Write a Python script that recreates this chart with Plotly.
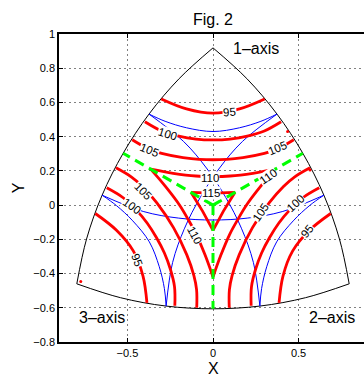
import plotly.graph_objects as go

# ---------------- data ----------------
# boundary edges of the projected octant
edge_13_x = [0.000, -0.198, -0.374, -0.525, -0.648, -0.739, -0.796]
edge_13_y = [0.919, 0.739, 0.532, 0.303, 0.058, -0.198, -0.460]
edge_32_x = [-0.796, -0.541, -0.274, 0.000, 0.274, 0.541, 0.796]
edge_32_y = [-0.460, -0.541, -0.590, -0.606, -0.590, -0.541, -0.460]
edge_21_x = [0.796, 0.739, 0.648, 0.525, 0.374, 0.198, 0.000]
edge_21_y = [-0.460, -0.198, 0.058, 0.303, 0.532, 0.739, 0.919]

# red contour lines (levels 95, 100, 105 around each axis; closed 110 and 115)
c95_ax1_x = [-0.302, -0.155, 0.000, 0.155, 0.302]
c95_ax1_y = [0.620, 0.562, 0.537, 0.562, 0.620]
c95_ax3_x = [-0.386, -0.409, -0.465, -0.564, -0.688]
c95_ax3_y = [-0.572, -0.415, -0.269, -0.147, -0.049]
c95_ax2_x = [0.386, 0.409, 0.465, 0.564, 0.688]
c95_ax2_y = [-0.572, -0.415, -0.269, -0.147, -0.049]

c100_ax1_x = [-0.398, -0.300, -0.200, -0.100, 0.000, 0.100, 0.200, 0.300, 0.398]
c100_ax1_y = [0.487, 0.433, 0.403, 0.386, 0.381, 0.386, 0.403, 0.433, 0.487]
c100_ax3_x = [-0.223, -0.225, -0.249, -0.284, -0.330, -0.384, -0.449, -0.525, -0.621]
c100_ax3_y = [-0.588, -0.476, -0.375, -0.280, -0.191, -0.106, -0.028, 0.043, 0.101]
c100_ax2_x = [0.223, 0.225, 0.249, 0.284, 0.330, 0.384, 0.449, 0.525, 0.621]
c100_ax2_y = [-0.588, -0.476, -0.375, -0.280, -0.191, -0.106, -0.028, 0.043, 0.101]

c105_ax1_x = [-0.472, -0.380, -0.300, -0.175, 0.000, 0.175, 0.300, 0.380, 0.472]
c105_ax1_y = [0.382, 0.330, 0.302, 0.278, 0.265, 0.278, 0.302, 0.330, 0.382]
c105_ax3_x = [-0.095, -0.096, -0.112, -0.153, -0.230, -0.328, -0.412, -0.476, -0.567]
c105_ax3_y = [-0.600, -0.494, -0.411, -0.291, -0.133, 0.013, 0.109, 0.164, 0.218]
c105_ax2_x = [0.095, 0.096, 0.112, 0.153, 0.230, 0.328, 0.412, 0.476, 0.567]
c105_ax2_y = [-0.600, -0.494, -0.411, -0.291, -0.133, 0.013, 0.109, 0.164, 0.218]

c110_top_x = [-0.364, -0.233, -0.100, 0.000, 0.100, 0.233, 0.364]
c110_top_y = [0.210, 0.186, 0.170, 0.167, 0.170, 0.186, 0.210]
c110_right_x = [0.364, 0.278, 0.197, 0.145, 0.097, 0.045, 0.000]
c110_right_y = [0.210, 0.109, 0.002, -0.084, -0.172, -0.295, -0.420]
c110_left_x = [0.000, -0.045, -0.097, -0.145, -0.197, -0.278, -0.364]
c110_left_y = [-0.420, -0.295, -0.172, -0.084, 0.002, 0.109, 0.210]

c115_x = [-0.128, 0.000, 0.128, 0.061, 0.000, -0.061, -0.128]
c115_y = [0.074, 0.070, 0.074, -0.035, -0.148, -0.035, 0.074]

red_specks_x = [0.436, -0.773, 0.567]
red_specks_y = [0.430, -0.446, 0.205]

# blue curves
b_near1_x = [-0.374, -0.280, -0.155, 0.000, 0.155, 0.280, 0.374]
b_near1_y = [0.532, 0.490, 0.452, 0.430, 0.452, 0.490, 0.532]
b_near3_x = [-0.274, -0.284, -0.314, -0.372, -0.469, -0.564, -0.648]
b_near3_y = [-0.590, -0.488, -0.360, -0.215, -0.092, -0.003, 0.058]
b_near2_x = [0.274, 0.284, 0.314, 0.372, 0.469, 0.564, 0.648]
b_near2_y = [-0.590, -0.488, -0.360, -0.215, -0.092, -0.003, 0.058]
b_far1_x = [-0.648, -0.408, -0.200, 0.000, 0.200, 0.408, 0.648]
b_far1_y = [0.058, -0.037, -0.076, -0.087, -0.076, -0.037, 0.058]
b_far3_x = [0.274, 0.236, 0.166, 0.075, -0.034, -0.172, -0.374]
b_far3_y = [-0.590, -0.335, -0.135, 0.044, 0.211, 0.372, 0.532]
b_far2_x = [-0.274, -0.236, -0.166, -0.075, 0.034, 0.172, 0.374]
b_far2_y = [-0.590, -0.335, -0.135, 0.044, 0.211, 0.372, 0.532]

# green dashed symmetry lines (centre -> edge midpoints)
g_x = [[0.0, -0.525], [0.0, 0.525], [0.0, 0.0]]
g_y = [[0.0, 0.303], [0.0, 0.303], [0.0, -0.606]]

# contour level labels
lab_text = ["95", "100", "105", "105", "110", "115", "110", "105", "100", "110", "105", "100", "95", "95"]
lab_x = [0.097, -0.265, -0.372, 0.379, -0.020, -0.010, 0.319, -0.408, -0.476, -0.107, 0.280, 0.484, 0.552, -0.443]
lab_y = [0.545, 0.415, 0.323, 0.333, 0.158, 0.070, 0.167, 0.085, -0.008, -0.173, -0.040, 0.012, -0.154, -0.319]
lab_angle = [-4, 17, 22, -22, 0, 0, -35, 45, 35, 62, -55, -43, -51, 69]

x_ticks = [-0.5, 0, 0.5]
y_ticks = [-0.8, -0.6, -0.4, -0.2, 0, 0.2, 0.4, 0.6, 0.8, 1]

# ---------------- figure ----------------
FONT = "Liberation Sans, Arial, Helvetica, sans-serif"


def joined(parts):
    xs, ys = [], []
    for px, py in parts:
        xs += list(px) + [None]
        ys += list(py) + [None]
    return xs, ys


fig = go.Figure()

bx, by = joined([(edge_13_x, edge_13_y), (edge_32_x, edge_32_y), (edge_21_x, edge_21_y)])
fig.add_trace(go.Scatter(x=bx, y=by, mode="lines", line=dict(color="black", width=1, shape="spline"),
                         hoverinfo="skip", showlegend=False))

blx, bly = joined([(b_near1_x, b_near1_y), (b_near3_x, b_near3_y), (b_near2_x, b_near2_y),
                   (b_far1_x, b_far1_y), (b_far3_x, b_far3_y), (b_far2_x, b_far2_y)])
fig.add_trace(go.Scatter(x=blx, y=bly, mode="lines", line=dict(color="#0000ff", width=1, shape="spline"),
                         hoverinfo="skip", showlegend=False))

rx, ry = joined([(c95_ax1_x, c95_ax1_y), (c95_ax3_x, c95_ax3_y), (c95_ax2_x, c95_ax2_y),
                 (c100_ax1_x, c100_ax1_y), (c100_ax3_x, c100_ax3_y), (c100_ax2_x, c100_ax2_y),
                 (c105_ax1_x, c105_ax1_y), (c105_ax3_x, c105_ax3_y), (c105_ax2_x, c105_ax2_y),
                 (c110_top_x, c110_top_y), (c110_right_x, c110_right_y), (c110_left_x, c110_left_y)])
fig.add_trace(go.Scatter(x=rx, y=ry, mode="lines", line=dict(color="#ff0000", width=2.8, shape="spline"),
                         hoverinfo="skip", showlegend=False))
fig.add_trace(go.Scatter(x=c115_x, y=c115_y, mode="lines", line=dict(color="#ff0000", width=2.8),
                         hoverinfo="skip", showlegend=False))
fig.add_trace(go.Scatter(x=red_specks_x, y=red_specks_y, mode="markers",
                         marker=dict(color="#ff0000", size=3), hoverinfo="skip", showlegend=False))

for gx, gy in zip(g_x, g_y):
    fig.add_trace(go.Scatter(x=gx, y=gy, mode="lines",
                             line=dict(color="#00ff00", width=3, dash="10px,6px"),
                             hoverinfo="skip", showlegend=False))

for t, x, y, a in zip(lab_text, lab_x, lab_y, lab_angle):
    fig.add_annotation(x=x, y=y, xref="x", yref="y", text=t, showarrow=False, textangle=a,
                       font=dict(family=FONT, size=11.5, color="black"),
                       bgcolor="white", borderpad=0)

big = dict(family=FONT, size=16, color="black")
fig.add_annotation(x=0.103, y=0.918, xref="x", yref="y", text="1\u2013axis", showarrow=False,
                   xanchor="left", yanchor="middle", font=big)
fig.add_annotation(x=-0.797, y=-0.655, xref="x", yref="y", text="3\u2013axis", showarrow=False,
                   xanchor="left", yanchor="middle", font=big)
fig.add_annotation(x=0.548, y=-0.655, xref="x", yref="y", text="2\u2013axis", showarrow=False,
                   xanchor="left", yanchor="middle", font=big)
fig.add_annotation(x=0, y=1, xref="x", yref="paper", text="Fig. 2", showarrow=False,
                   xanchor="center", yanchor="bottom", yshift=4, font=big)
fig.add_annotation(x=0, y=-0.086, xref="x", yref="paper", text="X", showarrow=False,
                   xanchor="center", yanchor="middle", font=big)
fig.add_annotation(x=-0.1334, y=0.5, xref="paper", yref="paper", text="Y", showarrow=False,
                   xanchor="center", yanchor="middle", textangle=-90, font=big)

axis_common = dict(showgrid=True, gridcolor="#808080", griddash="2px,3px", gridwidth=1,
                   showline=True, linecolor="black", linewidth=1.5, ticks="inside", ticklen=4,
                   tickcolor="black", zeroline=False,
                   tickfont=dict(family=FONT, size=11, color="black"))

fig.update_xaxes(range=[-0.9, 0.8825], tickvals=x_ticks, mirror="ticks", **axis_common)
fig.update_yaxes(range=[-0.8, 1.0], tickvals=y_ticks, mirror=False, **axis_common)

fig.update_layout(width=364, height=376, margin=dict(l=59, r=0, t=34, b=34),
                  paper_bgcolor="white", plot_bgcolor="white", showlegend=False,
                  font=dict(family=FONT))

fig.write_html("out.html")
